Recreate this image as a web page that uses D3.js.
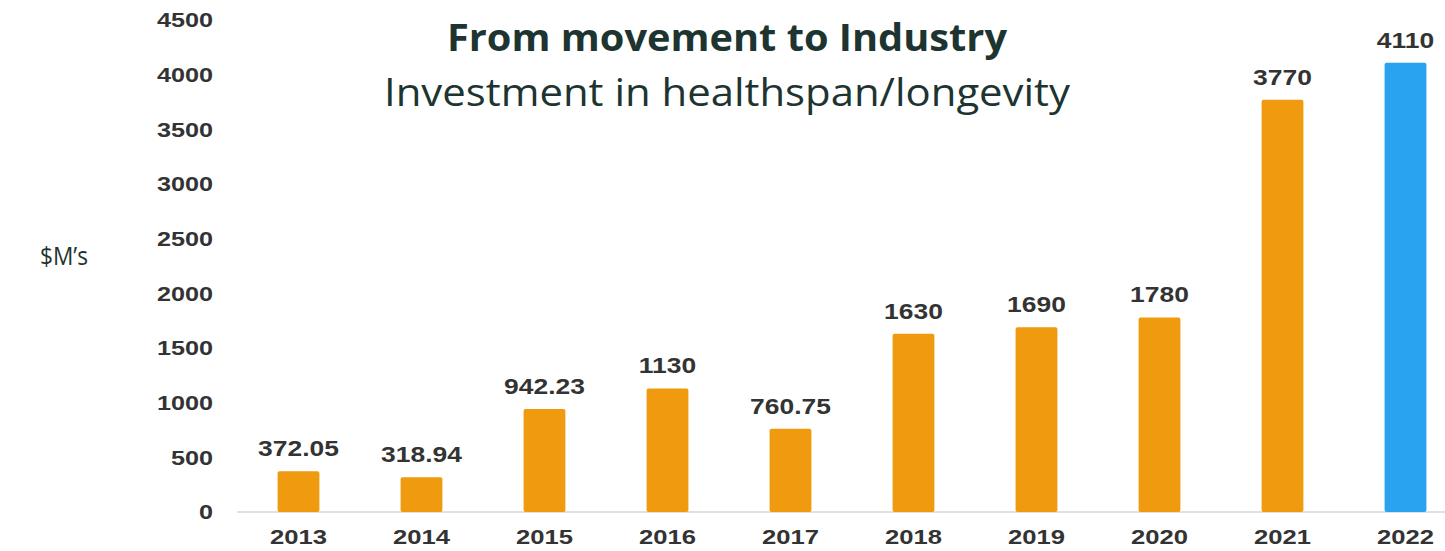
<!DOCTYPE html>
<html>
<head>
<meta charset="utf-8">
<script src="https://cdn.jsdelivr.net/npm/d3@7"></script>
<style>
  body { margin: 0; background: #fff; }
  svg { display: block; }
</style>
</head>
<body>
<svg id="chart" width="1445" height="551"></svg>
<script>
var years  = ["2013", "2014", "2015", "2016", "2017", "2018", "2019", "2020", "2021", "2022"];
var values = [372.05, 318.94, 942.23, 1130, 760.75, 1630, 1690, 1780, 3770, 4110];
var labels = ["372.05", "318.94", "942.23", "1130", "760.75", "1630", "1690", "1780", "3770", "4110"];
var yTicks = [0, 500, 1000, 1500, 2000, 2500, 3000, 3500, 4000, 4500];

var svg = d3.select("#chart");
var width = 1445, height = 551;

var x = d3.scaleBand().domain(years).range([237, 1467]).paddingInner(0.66).paddingOuter(0.33);
var y = d3.scaleLinear().domain([0, 4500]).range([512, 20]);

var tickFont = "'Liberation Sans', Arial, sans-serif";

// the source picture is a bit stretched sideways, so widen the glyphs
function widen(sel, k) {
  sel.each(function () {
    var len = this.getComputedTextLength();
    d3.select(this).attr("textLength", len * k).attr("lengthAdjust", "spacingAndGlyphs");
  });
}

// baseline
svg.append("line")
  .attr("x1", 237).attr("x2", width)
  .attr("y1", y(0)).attr("y2", y(0))
  .attr("stroke", "#d6d6d6").attr("stroke-width", 1.5);

// y axis, labels only
var yAxis = svg.append("g")
  .attr("transform", "translate(213,0)")
  .call(d3.axisLeft(y).tickValues(yTicks).tickFormat(d3.format("d")).tickSize(0).tickPadding(0));
yAxis.select(".domain").remove();
yAxis.selectAll("text")
  .attr("font-family", tickFont).attr("font-size", 21).attr("font-weight", "bold")
  .attr("fill", "#333")
  .call(widen, 1.2);

// x axis labels
var xAxis = svg.append("g")
  .attr("transform", "translate(0," + y(0) + ")")
  .call(d3.axisBottom(x).tickSize(0).tickPadding(17));
xAxis.select(".domain").remove();
xAxis.selectAll("text")
  .attr("font-family", tickFont).attr("font-size", 21).attr("font-weight", "bold")
  .attr("fill", "#333")
  .call(widen, 1.22);

// bars
svg.selectAll("rect.bar")
  .data(values)
  .enter().append("rect")
  .attr("class", "bar")
  .attr("x", function (d, i) { return x(years[i]); })
  .attr("y", function (d) { return y(d); })
  .attr("width", x.bandwidth())
  .attr("height", function (d) { return y(0) - y(d); })
  .attr("rx", 2)
  .attr("fill", function (d, i) { return i === values.length - 1 ? "#2aa3ee" : "#f09a10"; });

// value labels
svg.selectAll("text.val")
  .data(values)
  .enter().append("text")
  .attr("class", "val")
  .attr("x", function (d, i) { return x(years[i]) + x.bandwidth() / 2; })
  .attr("y", function (d) { return y(d) - 15; })
  .attr("text-anchor", "middle")
  .attr("font-family", tickFont).attr("font-size", 22)
  .attr("fill", "#333")
  .style("font-weight", "bold")
  .text(function (d, i) { return labels[i]; })
  .call(widen, 1.2);

// titles
var titleFont = "'Open Sans', 'Noto Sans', sans-serif";
svg.append("text")
  .attr("x", 727).attr("y", 51)
  .attr("text-anchor", "middle")
  .attr("font-family", titleFont).attr("font-size", 37).attr("font-weight", "bold")
  .attr("fill", "#1d3431")
  .attr("textLength", 560).attr("lengthAdjust", "spacingAndGlyphs")
  .text("From movement to Industry");
svg.append("text")
  .attr("x", 727).attr("y", 106)
  .attr("text-anchor", "middle")
  .attr("font-family", titleFont).attr("font-size", 38)
  .attr("fill", "#1d3431")
  .attr("textLength", 686).attr("lengthAdjust", "spacingAndGlyphs")
  .text("Investment in healthspan/longevity");

svg.append("text")
  .attr("x", 40).attr("y", 265)
  .attr("font-family", titleFont).attr("font-size", 25)
  .attr("fill", "#1d3431")
  .attr("textLength", 48).attr("lengthAdjust", "spacingAndGlyphs")
  .text("$M\u2019s");
</script>
</body>
</html>
